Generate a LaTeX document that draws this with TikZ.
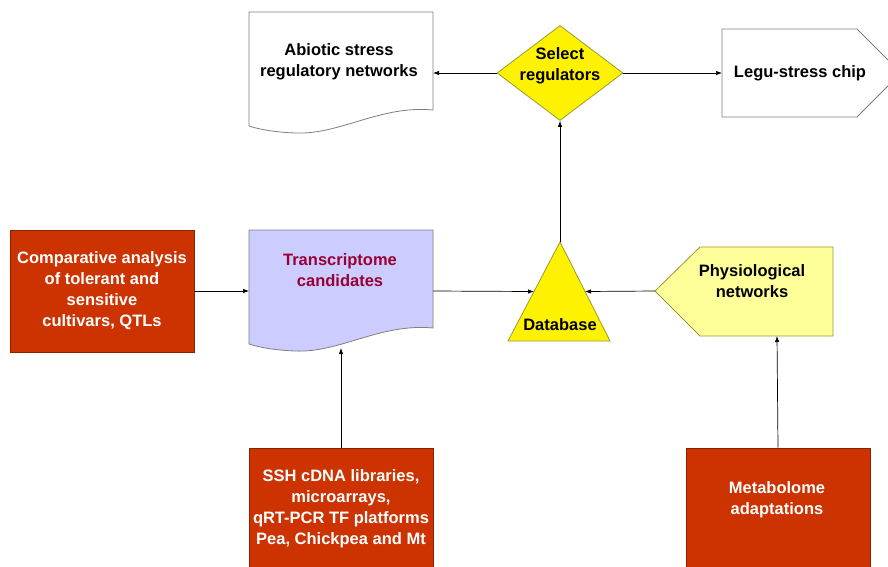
\documentclass[tikz,border=0pt]{standalone}
\usepackage{fontspec}
\setmainfont{Liberation Sans}
\usetikzlibrary{arrows.meta,shapes.geometric,positioning,calc}
\definecolor{brick}{HTML}{CC3300}
\definecolor{brickline}{HTML}{8A2200}
\definecolor{lavender}{HTML}{CCCCFF}
\definecolor{wine}{HTML}{990033}
\definecolor{paleyellow}{HTML}{FFFF99}
\definecolor{oliveline}{HTML}{999933}
\definecolor{docline}{HTML}{7F7F7F}
\begin{document}
\begin{tikzpicture}[x=1pt,y=-1pt,
  lbl/.style={font=\bfseries\fontsize{16.5}{21}\selectfont,align=center,inner sep=0pt},
  redbox/.style={draw=brickline,fill=brick,line width=0.8pt,minimum width=184pt,minimum height=122pt},
  link/.style={-{Latex[length=6pt,width=4.5pt]},line width=0.7pt}]
\useasboundingbox (0,0) rectangle (888,566);
\clip (0,0) rectangle (888,566);
% documents
\draw[docline,fill=white,line width=0.8pt] (249,12) -- (433,12) -- (433,110)
  .. controls (380,105) and (340,135) .. (295,133)
  .. controls (270,132) and (255,128) .. (249,126) -- cycle;
\node[lbl] (abio) at (339,62) {Abiotic stress\\regulatory networks};
\draw[docline,fill=lavender,line width=0.8pt] (249,230) -- (433,230) -- (433,328)
  .. controls (380,323) and (340,353) .. (295,351)
  .. controls (270,350) and (255,346) .. (249,344) -- cycle;
\node[lbl,text=wine] (trans) at (340,270) {Transcriptome\\candidates};
% decision
\node[diamond,draw=oliveline,fill=yellow,line width=0.8pt,inner sep=0pt,
  minimum width=126pt,minimum height=95pt] (sel) at (560,73) {};
\node[lbl] (sellbl) at (560,66) {Select\\regulators};
% chip
\draw[docline,fill=white,line width=0.8pt] (722,29) -- (857,29) -- (901,73)
  -- (857,117) -- (722,117) -- cycle;
\node[lbl] (chip) at (800,73) {Legu-stress chip};
% database
\coordinate (dbTop) at (560,242);
\coordinate (dbBL) at (508,341);
\coordinate (dbBR) at (610,341);
\draw[oliveline,fill=yellow,line width=0.8pt] (dbTop) -- (dbBR) -- (dbBL) -- cycle;
\node[lbl] (db) at (560,325) {Database};
% physiology
\draw[oliveline,fill=paleyellow,line width=0.8pt] (833,247) -- (700,247) -- (655,291)
  -- (700,336) -- (833,336) -- cycle;
\node[lbl] (phys) at (752,281) {Physiological\\networks};
% red boxes
\node[redbox,lbl,text=white] (comp) at (102,291)
  {Comparative analysis\\of tolerant and\\sensitive\\cultivars, QTLs};
\node[redbox,lbl,text=white] (ssh) at (341,509)
  {SSH cDNA libraries,\\microarrays,\\qRT-PCR TF platforms\\Pea, Chickpea and Mt};
\node[redbox] (meta) at (778,509) {};
\node[lbl,text=white] (metalbl) at (777,500) {Metabolome\\adaptations};
% connector ends
\coordinate (abR) at (433,73);
\coordinate (chipL) at (722,73);
\coordinate (trL) at (249,291);
\coordinate (trR) at (433,291);
\coordinate (trB) at (341,348);
\coordinate (dbL) at ($(dbBL)!0.5!(dbTop)$);
\coordinate (dbR) at ($(dbBR)!0.5!(dbTop)$);
\coordinate (phTip) at (655,291);
\coordinate (phB) at (777,336);
% arrows
\draw[link] (sel.west) -- (abR);
\draw[link] (sel.east) -- (chipL);
\draw[link] (comp.east) -- (trL);
\draw[link] (trR) -- (dbL);
\draw[link] (phTip) -- (dbR);
\draw[link] (dbTop) -- (sel.south);
\draw[link] (ssh.north) -- (trB);
\draw[link] (meta.north) -- (phB);
\end{tikzpicture}
\end{document}
